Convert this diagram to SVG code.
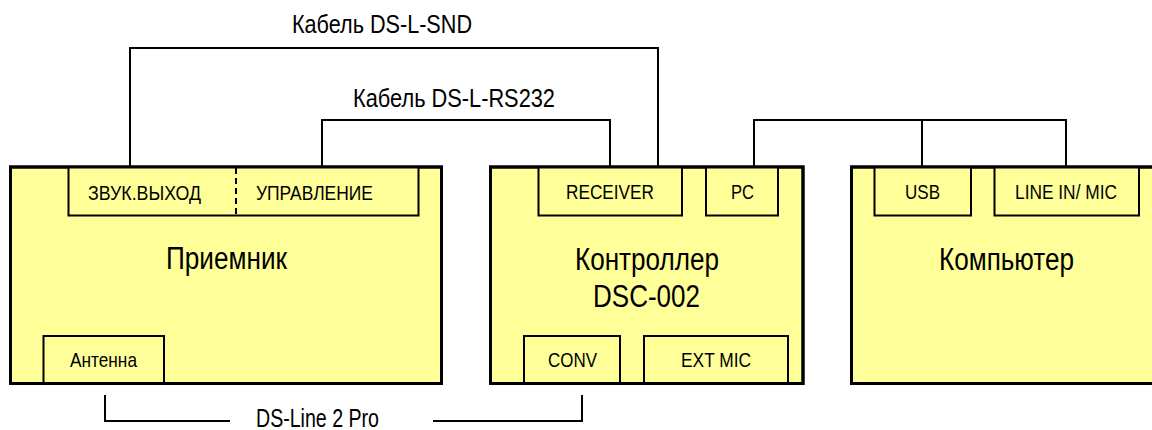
<svg xmlns="http://www.w3.org/2000/svg" width="1152" height="430" viewBox="0 0 1152 430">
<style>
.main{fill:#FFFF99;stroke:#000;stroke-width:3}
.sub{fill:#FFFF99;stroke:#000;stroke-width:2}
.frame{fill:none;stroke:#000;stroke-width:3}
.wire{fill:none;stroke:#000;stroke-width:2}
text{font-family:"Liberation Sans Narrow","Liberation Sans",Arial,sans-serif;fill:#000}
.s{font-size:21px}
.b{font-size:31px}
.c{font-size:25px}
</style>
<rect width="1152" height="430" fill="#fff"/>
<g id="connectors">
<polyline class="wire" points="130,167 130,48 658,48 658,167"/>
<polyline class="wire" points="322,167 322,120 610,120 610,167"/>
<polyline class="wire" points="754,167 754,120 1066,120 1066,167"/>
<line class="wire" x1="922" y1="120" x2="922" y2="167"/>
<polyline class="wire" points="105,395 105,421 230,421"/>
<polyline class="wire" points="433,421 582,421 582,395"/>
<text class="c" x="292" y="33" textLength="180" lengthAdjust="spacingAndGlyphs">Кабель DS-L-SND</text>
<text class="c" x="353" y="107" textLength="202" lengthAdjust="spacingAndGlyphs">Кабель DS-L-RS232</text>
<text class="c" x="256" y="427" textLength="123" lengthAdjust="spacingAndGlyphs">DS-Line 2 Pro</text>
</g>
<g id="receiver">
<rect class="main" x="10.5" y="167" width="431" height="216.5"/>
<rect class="sub" x="68.5" y="167" width="350" height="48.5"/>
<line x1="236" y1="168" x2="236" y2="215" stroke="#000" stroke-width="2" stroke-dasharray="6 4"/>
<rect class="sub" x="43.5" y="336" width="120.5" height="47.5"/>
<rect class="frame" x="10.5" y="167" width="431" height="216.5"/>
<text class="s" x="88" y="200" textLength="113" lengthAdjust="spacingAndGlyphs">ЗВУК.ВЫХОД</text>
<text class="s" x="256" y="200" textLength="117" lengthAdjust="spacingAndGlyphs">УПРАВЛЕНИЕ</text>
<text class="s" x="70" y="367" textLength="67" lengthAdjust="spacingAndGlyphs">Антенна</text>
<text class="b" x="166" y="269" textLength="121" lengthAdjust="spacingAndGlyphs">Приемник</text>
</g>
<g id="controller">
<rect class="main" x="490.5" y="167" width="312.5" height="216.5"/>
<rect class="sub" x="538.5" y="167" width="143.5" height="48.5"/>
<rect class="sub" x="706" y="167" width="72" height="48.5"/>
<rect class="sub" x="524" y="336" width="96" height="47.5"/>
<rect class="sub" x="644" y="336" width="144" height="47.5"/>
<rect class="frame" x="490.5" y="167" width="312.5" height="216.5"/>
<text class="s" x="566" y="199" textLength="88" lengthAdjust="spacingAndGlyphs">RECEIVER</text>
<text class="s" x="731" y="199" textLength="23" lengthAdjust="spacingAndGlyphs">PC</text>
<text class="s" x="548" y="367" textLength="49" lengthAdjust="spacingAndGlyphs">CONV</text>
<text class="s" x="681" y="367" textLength="70" lengthAdjust="spacingAndGlyphs">EXT MIC</text>
<text class="b" x="575" y="270" textLength="144" lengthAdjust="spacingAndGlyphs">Контроллер</text>
<text class="b" x="593" y="307" textLength="107" lengthAdjust="spacingAndGlyphs">DSC-002</text>
</g>
<g id="computer">
<rect class="main" x="851.5" y="167" width="320" height="216.5"/>
<rect class="sub" x="874.5" y="167" width="96.5" height="48.5"/>
<rect class="sub" x="994.5" y="167" width="144.5" height="48.5"/>
<rect class="frame" x="851.5" y="167" width="320" height="216.5"/>
<text class="s" x="905" y="199" textLength="35" lengthAdjust="spacingAndGlyphs">USB</text>
<text class="s" x="1015" y="199" textLength="102" lengthAdjust="spacingAndGlyphs">LINE IN/ MIC</text>
<text class="b" x="939" y="270" textLength="135" lengthAdjust="spacingAndGlyphs">Компьютер</text>
</g>
</svg>
